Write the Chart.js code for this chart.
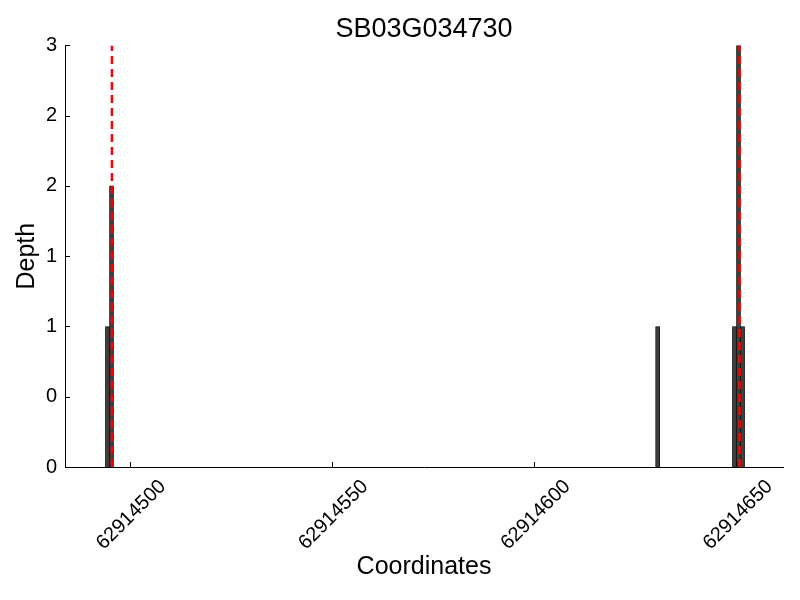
<!DOCTYPE html>
<html>
<head>
<meta charset="utf-8">
<script src="https://cdn.jsdelivr.net/npm/chart.js@4"></script>
<style>
  html, body { margin: 0; padding: 0; background: #fff; }
  #wrap { width: 800px; height: 600px; }
</style>
</head>
<body>
<div id="wrap"><canvas id="depthChart" width="800" height="600"></canvas></div>
<script>
const titleText = "SB03G034730";
const positions = [62914494, 62914495, 62914630, 62914649, 62914650, 62914651];
const depths = [1, 2, 1, 1, 3, 1];
const markerPositions = [62914495.6, 62914650.8];
const xTicks = [62914500, 62914550, 62914600, 62914650];
const yTicks = [0, 0.5, 1, 1.5, 2, 2.5, 3];
const yTickLabels = ["0", "0", "1", "1", "2", "2", "3"];
const xMin = 62914484;
const xMax = 62914661.5;

const FONT = "'Liberation Sans', Arial, Helvetica, sans-serif";

// matplotlib style ticks pointing into the plot
const innerTicks = {
  id: "innerTicks",
  afterDraw(chart) {
    const ctx = chart.ctx;
    const xs = chart.scales.x;
    const ys = chart.scales.y;
    const area = chart.chartArea;
    ctx.save();
    ctx.strokeStyle = "#000";
    ctx.lineWidth = 1;
    ctx.beginPath();
    xTicks.forEach((v) => {
      const px = Math.round(xs.getPixelForValue(v)) + 0.5;
      ctx.moveTo(px, area.bottom);
      ctx.lineTo(px, area.bottom - 5);
    });
    yTicks.forEach((v) => {
      const py = Math.round(ys.getPixelForValue(v)) + 0.5;
      ctx.moveTo(area.left, py);
      ctx.lineTo(area.left + 5, py);
    });
    ctx.stroke();
    ctx.restore();
  },
};

const markerDatasets = markerPositions.map((p) => ({
  type: "line",
  data: [{ x: p, y: 0 }, { x: p, y: 3 }],
  borderColor: "#ff0000",
  borderWidth: 2.5,
  borderDash: [8, 5],
  pointRadius: 0,
  fill: false,
  order: 0,
}));

const barDataset = {
  type: "bar",
  data: positions.map((p, i) => ({ x: p + 0.5, y: depths[i] })),
  backgroundColor: "#404040",
  borderColor: "#000000",
  borderWidth: 1,
  barPercentage: 1,
  categoryPercentage: 1,
  order: 1,
};

new Chart(document.getElementById("depthChart"), {
  data: { datasets: [barDataset, ...markerDatasets] },
  options: {
    responsive: false,
    animation: false,
    layout: { padding: { left: 0, right: 17, top: 0, bottom: 0 } },
    plugins: {
      legend: { display: false },
      tooltip: { enabled: false },
      title: {
        display: true,
        fullSize: false,
        text: titleText,
        color: "#000",
        font: { family: FONT, size: 27, weight: "normal" },
        padding: { top: 13, bottom: 0 },
      },
    },
    scales: {
      x: {
        type: "linear",
        min: xMin,
        max: xMax,
        offset: false,
        afterBuildTicks: (scale) => {
          scale.ticks = xTicks.map((v) => ({ value: v }));
        },
        afterFit: (scale) => {
          scale.height = 133;
        },
        grid: { display: false, drawTicks: false },
        border: { display: true, color: "#000", width: 1 },
        ticks: {
          color: "#000",
          font: { family: FONT, size: 20 },
          minRotation: 45,
          maxRotation: 45,
          padding: 8,
          labelOffset: 33,
          callback: (v) => String(v),
        },
        title: {
          display: true,
          text: "Coordinates",
          color: "#000",
          font: { family: FONT, size: 25 },
          padding: { top: 0, bottom: 18 },
        },
      },
      y: {
        min: 0,
        max: 3,
        afterBuildTicks: (scale) => {
          scale.ticks = yTicks.map((v) => ({ value: v }));
        },
        afterFit: (scale) => {
          scale.width = 65;
        },
        grid: { display: false, drawTicks: false },
        border: { display: true, color: "#000", width: 1 },
        ticks: {
          color: "#000",
          font: { family: FONT, size: 20 },
          padding: 8,
          callback: (v, i) => yTickLabels[i],
        },
        title: {
          display: true,
          text: "Depth",
          color: "#000",
          font: { family: FONT, size: 25 },
          padding: { top: 12, bottom: 0 },
        },
      },
    },
  },
  plugins: [innerTicks],
});
</script>
</body>
</html>
